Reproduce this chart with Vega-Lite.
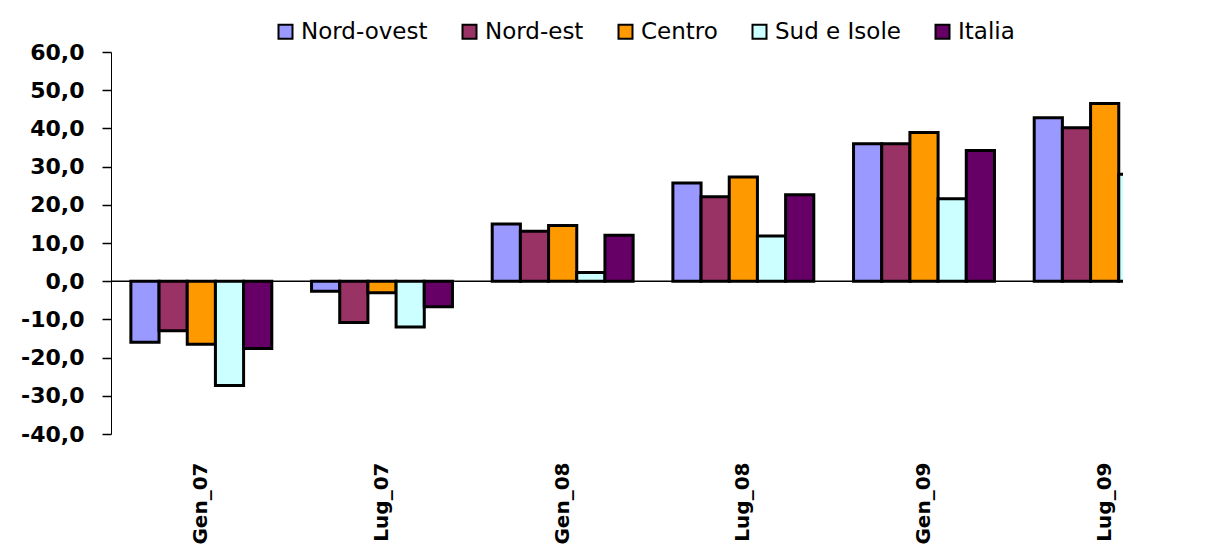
{
  "$schema": "https://vega.github.io/schema/vega-lite/v6.json",
  "width": 1012,
  "height": 382,
  "autosize": {"type": "none"},
  "padding": {"left": 111, "top": 52, "right": 85, "bottom": 126},
  "background": "white",
  "config": {
    "view": {"stroke": null},
    "font": "DejaVu Sans",
    "axis": {"labelColor": "black", "labelFont": "DejaVu Sans"},
    "axisY": {"labelOverlap": false, "labelFlush": false},
    "legend": {"labelFont": "DejaVu Sans"}
  },
  "data": {
    "values": [
      {"periodo": "Gen_07", "area": "Nord-ovest", "valore": -16.0},
      {"periodo": "Gen_07", "area": "Nord-est", "valore": -13.0},
      {"periodo": "Gen_07", "area": "Centro", "valore": -16.5},
      {"periodo": "Gen_07", "area": "Sud e Isole", "valore": -27.3},
      {"periodo": "Gen_07", "area": "Italia", "valore": -17.6},
      {"periodo": "Lug_07", "area": "Nord-ovest", "valore": -2.6},
      {"periodo": "Lug_07", "area": "Nord-est", "valore": -10.8},
      {"periodo": "Lug_07", "area": "Centro", "valore": -3.0},
      {"periodo": "Lug_07", "area": "Sud e Isole", "valore": -12.0},
      {"periodo": "Lug_07", "area": "Italia", "valore": -6.7},
      {"periodo": "Gen_08", "area": "Nord-ovest", "valore": 15.0},
      {"periodo": "Gen_08", "area": "Nord-est", "valore": 13.1},
      {"periodo": "Gen_08", "area": "Centro", "valore": 14.6},
      {"periodo": "Gen_08", "area": "Sud e Isole", "valore": 2.3},
      {"periodo": "Gen_08", "area": "Italia", "valore": 12.0},
      {"periodo": "Lug_08", "area": "Nord-ovest", "valore": 25.7},
      {"periodo": "Lug_08", "area": "Nord-est", "valore": 22.1},
      {"periodo": "Lug_08", "area": "Centro", "valore": 27.3},
      {"periodo": "Lug_08", "area": "Sud e Isole", "valore": 11.8},
      {"periodo": "Lug_08", "area": "Italia", "valore": 22.6},
      {"periodo": "Gen_09", "area": "Nord-ovest", "valore": 36.0},
      {"periodo": "Gen_09", "area": "Nord-est", "valore": 36.0},
      {"periodo": "Gen_09", "area": "Centro", "valore": 38.9},
      {"periodo": "Gen_09", "area": "Sud e Isole", "valore": 21.6},
      {"periodo": "Gen_09", "area": "Italia", "valore": 34.2},
      {"periodo": "Lug_09", "area": "Nord-ovest", "valore": 42.8},
      {"periodo": "Lug_09", "area": "Nord-est", "valore": 40.2},
      {"periodo": "Lug_09", "area": "Centro", "valore": 46.5},
      {"periodo": "Lug_09", "area": "Sud e Isole", "valore": 28.0},
      {"periodo": "Lug_09", "area": "Italia", "valore": 37.0}
    ]
  },
  "layer": [
    {
      "mark": {"type": "bar", "stroke": "black", "strokeWidth": 3, "clip": true},
      "encoding": {
        "x": {
          "field": "periodo",
          "type": "nominal",
          "sort": ["Gen_07", "Lug_07", "Gen_08", "Lug_08", "Gen_09", "Lug_09"],
          "scale": {"range": [0, 1084], "paddingInner": 0.22, "paddingOuter": 0.11},
          "axis": {
            "title": null,
            "orient": "bottom",
            "domain": false,
            "ticks": false,
            "labelAngle": -90,
            "labelPadding": 28,
            "labelFontSize": 20,
            "labelFontWeight": "bold",
            "labelAlign": "right",
            "labelBaseline": "middle",
            "labelOverlap": false
          }
        },
        "xOffset": {
          "field": "area",
          "type": "nominal",
          "sort": ["Nord-ovest", "Nord-est", "Centro", "Sud e Isole", "Italia"],
          "scale": {"paddingInner": 0, "paddingOuter": 0}
        },
        "y": {
          "field": "valore",
          "type": "quantitative",
          "scale": {"domain": [-40, 60], "nice": false, "zero": false},
          "axis": {
            "title": null,
            "values": [-40, -30, -20, -10, 0, 10, 20, 30, 40, 50, 60],
            "grid": false,
            "domainColor": "black",
            "domainWidth": 1,
            "tickColor": "black",
            "tickSize": 9,
            "tickWidth": 1.5,
            "labelPadding": 18,
            "labelFontSize": 22,
            "labelFontWeight": "bold",
            "labelOverlap": false,
            "labelFlush": false,
            "labelExpr": "replace((datum.value < 0 ? '-' : '') + format(abs(datum.value), '.1f'), '.', ',')"
          }
        },
        "color": {
          "field": "area",
          "type": "nominal",
          "sort": ["Nord-ovest", "Nord-est", "Centro", "Sud e Isole", "Italia"],
          "scale": {
            "domain": ["Nord-ovest", "Nord-est", "Centro", "Sud e Isole", "Italia"],
            "range": ["#9999FF", "#993366", "#FF9900", "#CCFFFF", "#660066"]
          },
          "legend": {
            "title": null,
            "orient": "none",
            "legendX": 163,
            "legendY": -32,
            "direction": "horizontal",
            "columns": 5,
            "columnPadding": 30,
            "symbolType": "square",
            "symbolSize": 196,
            "symbolStrokeColor": "black",
            "symbolStrokeWidth": 2,
            "labelFontSize": 23,
            "labelColor": "black",
            "labelOffset": 4
          }
        }
      }
    },
    {
      "data": {"values": [{"zero": 0}]},
      "mark": {"type": "rule", "color": "black", "strokeWidth": 1.5},
      "encoding": {
        "y": {
          "field": "zero",
          "type": "quantitative",
          "axis": {
            "title": null,
            "values": [-40, -30, -20, -10, 0, 10, 20, 30, 40, 50, 60],
            "labelOverlap": false
          }
        }
      }
    }
  ]
}
